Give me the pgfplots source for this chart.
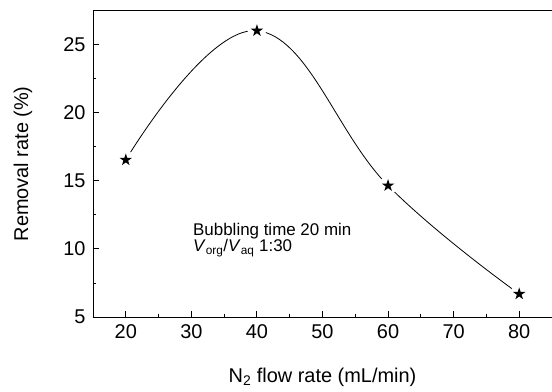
\documentclass[border=0pt]{standalone}
\usepackage{pgfplots}
\pgfplotsset{compat=1.18}
\usepackage{fontspec}
\setmainfont{Liberation Sans}
\pgfdeclareplotmark{fstar}{%
  \pgfpathmoveto{\pgfpointpolar{90}{\pgfplotmarksize}}%
  \pgfpathlineto{\pgfpointpolar{126}{0.382\pgfplotmarksize}}%
  \pgfpathlineto{\pgfpointpolar{162}{\pgfplotmarksize}}%
  \pgfpathlineto{\pgfpointpolar{198}{0.382\pgfplotmarksize}}%
  \pgfpathlineto{\pgfpointpolar{234}{\pgfplotmarksize}}%
  \pgfpathlineto{\pgfpointpolar{270}{0.382\pgfplotmarksize}}%
  \pgfpathlineto{\pgfpointpolar{306}{\pgfplotmarksize}}%
  \pgfpathlineto{\pgfpointpolar{342}{0.382\pgfplotmarksize}}%
  \pgfpathlineto{\pgfpointpolar{18}{\pgfplotmarksize}}%
  \pgfpathlineto{\pgfpointpolar{54}{0.382\pgfplotmarksize}}%
  \pgfpathclose
  \pgfusepathqfill
}
\pgfplotstableread{
x y
20 16.54
40 26.03
60 14.65
80 6.69
}\datatab
\begin{document}
\begin{tikzpicture}
\begin{axis}[
  name=ax,
  scale only axis,
  width=459bp, height=306.3bp,
  xmin=15, xmax=85, ymin=5, ymax=27.5,
  axis x line=box, axis y line=left,
  axis line style={-, line width=0.9bp, black},
  xtick={20,30,...,80}, ytick={5,10,...,25},
  minor x tick num=1, minor y tick num=1,
  xtick pos=bottom, ytick pos=left,
  tick align=inside,
  major tick length=6bp, minor tick length=3.5bp,
  every tick/.style={black, line width=0.9bp},
  /pgf/number format/assume math mode=true,
  tick label style={font=\fontsize{20}{24}\selectfont},
  xticklabel style={yshift=-4bp},
  yticklabel style={xshift=-4bp},
  label style={font=\fontsize{20}{24}\selectfont},
  xlabel={N\textsubscript{2} flow rate (mL/min)},
  ylabel={Removal rate (\%)},
  xlabel style={at={(axis description cs:0.5,-0.2122)}, anchor=base},
  ylabel style={at={(axis description cs:-0.1416,0.5)}, anchor=base, rotate=0},
  clip=false,
]
\addplot[black, line width=0.8bp, smooth, tension=0.7, no marks] table[x=x,y=y] {\datatab};
\addplot[white, only marks, mark=*, mark size=9bp, mark options={fill=white, draw=white}] table[x=x,y=y] {\datatab};
\addplot[black, only marks, mark=fstar, mark size=6.5bp, mark options={fill=black}] table[x=x,y=y] {\datatab};
\node[anchor=base west, font=\fontsize{17}{20}\selectfont, inner sep=0pt] at (axis cs:30.25,10.97) {Bubbling time 20 min};
\node[anchor=base west, font=\fontsize{17}{20}\selectfont, inner sep=0pt] at (axis cs:30.25,9.78) {\textit{V}\textsubscript{org}/\textit{V}\textsubscript{aq} 1:30};
\end{axis}
\pgfresetboundingbox
\path ([xshift=-93bp,yshift=-75bp]ax.south west) rectangle ([yshift=10.7bp]ax.north east);
\end{tikzpicture}
\end{document}
